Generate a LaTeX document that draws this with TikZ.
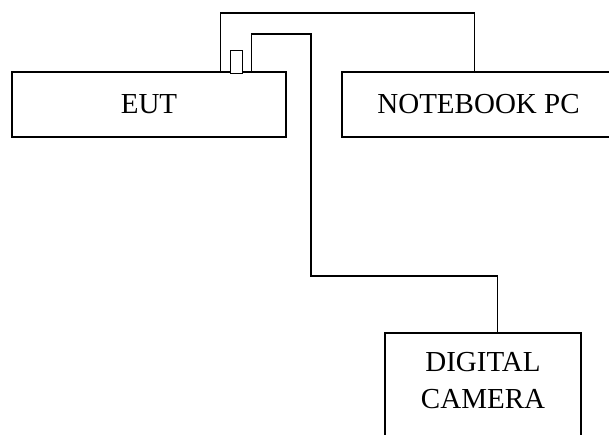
\documentclass[tikz,border=0pt]{standalone}
\usepackage{fontspec}
\setmainfont{Liberation Serif}
\usetikzlibrary{calc}

\begin{document}
\begin{tikzpicture}[
    x=1pt, y=-1pt,
    unit/.style={draw, line width=1.5pt, fill=white, inner sep=0pt, font=\fontsize{29}{37}\selectfont},
    plug/.style={draw, line width=1pt, fill=white, inner sep=0pt, minimum width=12pt, minimum height=23pt},
    wire/.style={line width=1.5pt},
]
\useasboundingbox (0,0) rectangle (609,435);
\clip (0,0) rectangle (609,435);

% units
\node[unit, minimum width=274pt, minimum height=65pt] (eut) at (149,104.5) {EUT};
\node[unit, minimum width=273pt, minimum height=65pt] (nb) at (478.5,104.5) {NOTEBOOK PC};
\node[unit, minimum width=196pt, minimum height=120pt, align=center, text depth=25pt, anchor=north] (cam) at (483,332) {DIGITAL\\CAMERA};

% wire EUT -- notebook
\coordinate (eutA) at ($(eut.north west)+(209,0)$);
\coordinate (nbA) at ($(nb.north west)+(133,0)$);
\draw[wire] (eutA) -- ++(0,-58) -| (nbA);

% wire EUT -- camera
\coordinate (eutB) at ($(eut.north west)+(240,0)$);
\coordinate (camA) at ($(cam.north west)+(113,0)$);
\draw[wire] (eutB) |- (311,34) -- (311,276) -| (camA);

% connector on EUT
\node[plug] (usb) at (236,62.5) {};
\end{tikzpicture}
\end{document}
